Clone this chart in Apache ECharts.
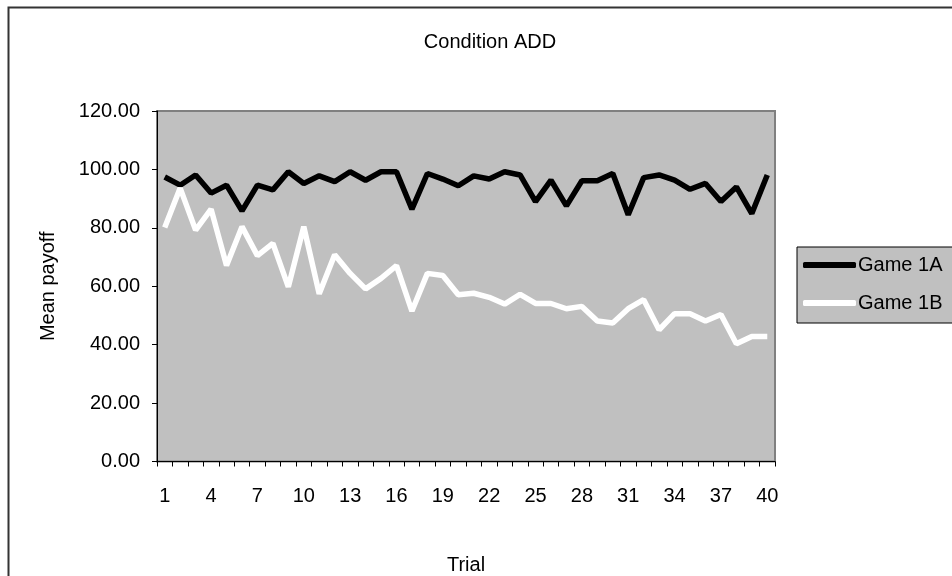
<!DOCTYPE html>
<html>
<head>
<meta charset="utf-8">
<script src="https://cdn.jsdelivr.net/npm/echarts@6/dist/echarts.min.js"></script>
<style>html,body{margin:0;padding:0;background:#fff;}#c{width:952px;height:576px;}</style>
</head>
<body>
<div id="c"></div>
<script>
var trials = [];
for (var t = 1; t <= 40; t++) trials.push(String(t));
var game1A = [97.4,94.6,98.1,91.9,94.6,85.8,94.6,93.0,99.2,95.2,97.8,95.8,99.2,96.3,99.2,99.2,86.4,98.6,96.7,94.4,
              97.8,96.7,99.2,98.1,89.0,96.3,87.5,96.1,96.1,98.6,84.5,97.2,98.1,96.3,93.2,95.2,89.0,94.0,84.9,98.1];
var game1B = [80.1,93.6,79.2,86.4,67.1,80.4,70.5,74.7,59.8,80.4,57.4,70.8,64.4,59.1,62.7,67.1,51.5,64.4,63.7,57.1,
              57.6,56.2,53.9,57.2,54.1,54.1,52.3,53.1,48.1,47.4,52.3,55.4,45.1,50.6,50.6,48.1,50.3,40.3,42.8,42.8];
var seriesNames = ['Game 1A', 'Game 1B'];
var titleText = 'Condition ADD';
var xName = 'Trial';
var yName = 'Mean payoff';

var FONT = '"Liberation Sans", Arial, sans-serif';
var FS = 20;
var chart = echarts.init(document.getElementById('c'));
chart.setOption({
  animation: false,
  backgroundColor: '#ffffff',
  textStyle: { fontFamily: FONT, color: '#000' },
  title: {
    text: titleText, left: 485, top: 27, textAlign: 'center',
    textStyle: { fontFamily: FONT, fontSize: FS, fontWeight: 'normal', color: '#000' }
  },
  graphic: [{
    type: 'rect', silent: true,
    shape: { x: 8.5, y: 7.5, width: 960, height: 600 },
    style: { fill: 'none', stroke: '#333', lineWidth: 2 }
  }],
  legend: {
    orient: 'vertical', left: 797, top: 247,
    backgroundColor: '#c0c0c0', borderColor: '#000', borderWidth: 1,
    padding: [7, 60, 9, 6], itemWidth: 53, itemHeight: 6, itemGap: 16, icon: 'roundRect',
    textStyle: { fontFamily: FONT, fontSize: FS, lineHeight: 22, color: '#000', padding: [0, 0, 0, -3] },
    data: seriesNames
  },
  grid: {
    left: 157, top: 111, right: 177, bottom: 114.5,
    outerBoundsMode: 'none', containLabel: false,
    show: true, backgroundColor: '#c0c0c0', borderColor: '#808080', borderWidth: 2
  },
  xAxis: {
    type: 'category', data: trials, boundaryGap: true,
    name: xName, nameLocation: 'middle', nameGap: 94,
    nameTextStyle: { fontFamily: FONT, fontSize: FS, color: '#000' },
    axisLine: { lineStyle: { color: '#000', width: 1 } },
    axisTick: { show: true, interval: 0, length: 5, lineStyle: { color: '#000' } },
    axisLabel: { interval: 2, margin: 25, fontFamily: FONT, fontSize: FS, color: '#000' },
    splitLine: { show: false }
  },
  yAxis: {
    type: 'value', min: 0, max: 120, interval: 20,
    name: yName, nameLocation: 'middle', nameGap: 99, nameRotate: 90,
    nameTextStyle: { fontFamily: FONT, fontSize: FS, color: '#000' },
    axisLine: { show: true, lineStyle: { color: '#000', width: 1 } },
    axisTick: { show: true, length: 5, lineStyle: { color: '#000' } },
    axisLabel: { margin: 17, fontFamily: FONT, fontSize: FS, color: '#000',
      formatter: function (v) { return v.toFixed(2); } },
    splitLine: { show: false }
  },
  series: [
    { name: seriesNames[0], type: 'line', data: game1A, symbol: 'none',
      lineStyle: { color: '#000', width: 5.5 }, itemStyle: { color: '#000' } },
    { name: seriesNames[1], type: 'line', data: game1B, symbol: 'none',
      lineStyle: { color: '#fff', width: 5.5 }, itemStyle: { color: '#fff' } }
  ]
});
</script>
</body>
</html>
